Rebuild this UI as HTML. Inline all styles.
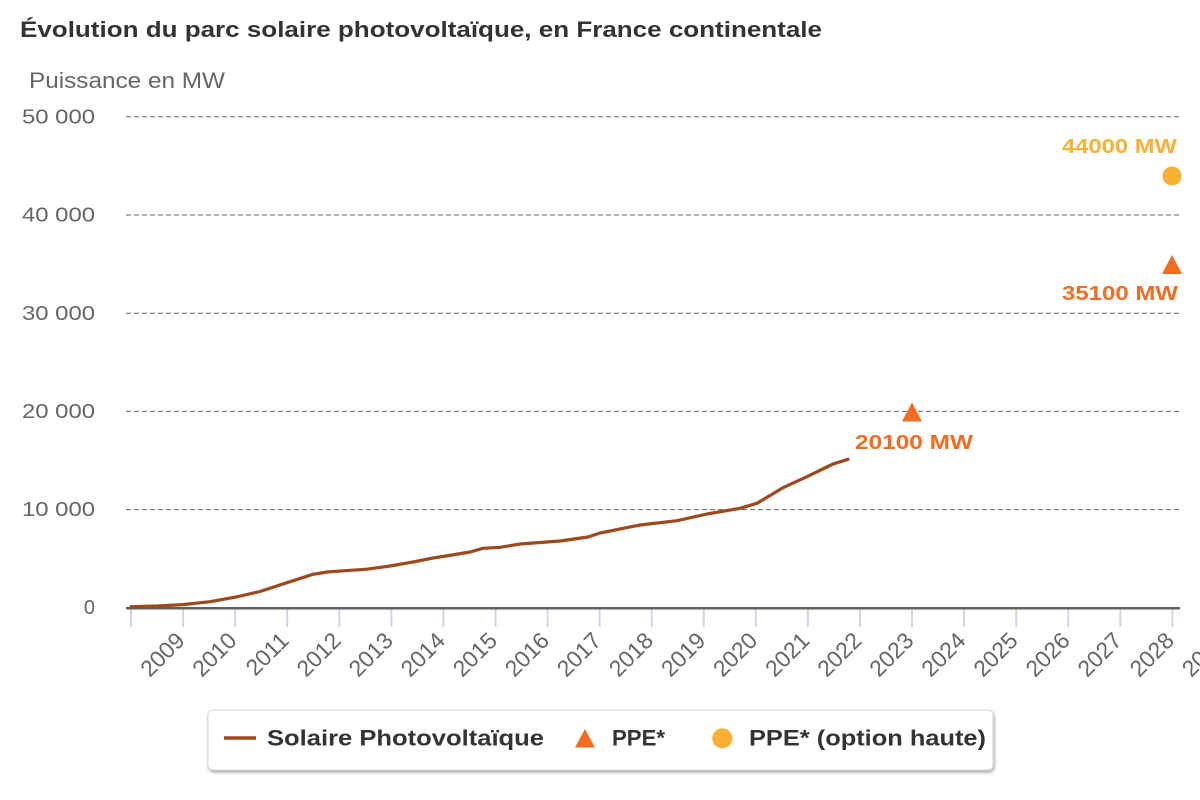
<!DOCTYPE html>
<html>
<head>
<meta charset="utf-8">
<style>
  html, body { margin: 0; padding: 0; background: #ffffff; }
  body { width: 1200px; height: 800px; overflow: hidden; }
  svg { display: block; font-family: "Liberation Sans", "DejaVu Sans", sans-serif; }
</style>
</head>
<body>
<svg width="1200" height="800" viewBox="0 0 1200 800" xmlns="http://www.w3.org/2000/svg">
  <defs>
    <filter id="sh" x="-5%" y="-20%" width="110%" height="150%">
      <feDropShadow dx="1" dy="2" stdDeviation="1.5" flood-color="#000" flood-opacity="0.35"/>
    </filter>
  </defs>
  <rect x="0" y="0" width="1200" height="800" fill="#ffffff"/>

  <!-- Title -->
  <text x="20" y="37" font-size="22" font-weight="bold" fill="#333333" textLength="802" lengthAdjust="spacingAndGlyphs">Évolution du parc solaire photovoltaïque, en France continentale</text>
  <text x="29" y="88" font-size="22" fill="#666666" textLength="196" lengthAdjust="spacingAndGlyphs">Puissance en MW</text>

  <!-- Gridlines -->
  <g stroke="#666666" stroke-width="1" stroke-dasharray="5,3" fill="none">
    <line x1="126" y1="116.7" x2="1180" y2="116.7"/>
    <line x1="126" y1="215" x2="1180" y2="215"/>
    <line x1="126" y1="313.2" x2="1180" y2="313.2"/>
    <line x1="126" y1="411.4" x2="1180" y2="411.4"/>
    <line x1="126" y1="509.6" x2="1180" y2="509.6"/>
  </g>

  <!-- Y labels -->
  <g font-size="20" fill="#666666" text-anchor="end">
    <text x="95" y="123.5" textLength="73" lengthAdjust="spacingAndGlyphs">50 000</text>
    <text x="95" y="221.5" textLength="73" lengthAdjust="spacingAndGlyphs">40 000</text>
    <text x="95" y="320" textLength="73" lengthAdjust="spacingAndGlyphs">30 000</text>
    <text x="95" y="418" textLength="73" lengthAdjust="spacingAndGlyphs">20 000</text>
    <text x="95" y="516" textLength="73" lengthAdjust="spacingAndGlyphs">10 000</text>
    <text x="95" y="614">0</text>
  </g>

  <!-- Ticks -->
  <g stroke="#ccd6eb" stroke-width="2">
    <line x1="131" y1="609" x2="131" y2="627"/>
    <line x1="183.1" y1="609" x2="183.1" y2="627"/>
    <line x1="235.1" y1="609" x2="235.1" y2="627"/>
    <line x1="287.2" y1="609" x2="287.2" y2="627"/>
    <line x1="339.3" y1="609" x2="339.3" y2="627"/>
    <line x1="391.4" y1="609" x2="391.4" y2="627"/>
    <line x1="443.4" y1="609" x2="443.4" y2="627"/>
    <line x1="495.5" y1="609" x2="495.5" y2="627"/>
    <line x1="547.6" y1="609" x2="547.6" y2="627"/>
    <line x1="599.6" y1="609" x2="599.6" y2="627"/>
    <line x1="651.7" y1="609" x2="651.7" y2="627"/>
    <line x1="703.8" y1="609" x2="703.8" y2="627"/>
    <line x1="755.8" y1="609" x2="755.8" y2="627"/>
    <line x1="807.9" y1="609" x2="807.9" y2="627"/>
    <line x1="860" y1="609" x2="860" y2="627"/>
    <line x1="912" y1="609" x2="912" y2="627"/>
    <line x1="964.1" y1="609" x2="964.1" y2="627"/>
    <line x1="1016.2" y1="609" x2="1016.2" y2="627"/>
    <line x1="1068.3" y1="609" x2="1068.3" y2="627"/>
    <line x1="1120.3" y1="609" x2="1120.3" y2="627"/>
    <line x1="1172.4" y1="609" x2="1172.4" y2="627"/>
  </g>
  <!-- Axis line -->
  <line x1="126" y1="608.3" x2="1180" y2="608.3" stroke="#606060" stroke-width="2.5"/>

  <!-- X labels -->
  <g font-size="23" fill="#666666" text-anchor="end">
    <text transform="translate(186,642) rotate(-45)">2009</text>
    <text transform="translate(238.1,642) rotate(-45)">2010</text>
    <text transform="translate(290.2,642) rotate(-45)">2011</text>
    <text transform="translate(342.3,642) rotate(-45)">2012</text>
    <text transform="translate(394.4,642) rotate(-45)">2013</text>
    <text transform="translate(446.4,642) rotate(-45)">2014</text>
    <text transform="translate(498.5,642) rotate(-45)">2015</text>
    <text transform="translate(550.6,642) rotate(-45)">2016</text>
    <text transform="translate(602.6,642) rotate(-45)">2017</text>
    <text transform="translate(654.7,642) rotate(-45)">2018</text>
    <text transform="translate(706.8,642) rotate(-45)">2019</text>
    <text transform="translate(758.8,642) rotate(-45)">2020</text>
    <text transform="translate(810.9,642) rotate(-45)">2021</text>
    <text transform="translate(863,642) rotate(-45)">2022</text>
    <text transform="translate(915,642) rotate(-45)">2023</text>
    <text transform="translate(967.1,642) rotate(-45)">2024</text>
    <text transform="translate(1019.2,642) rotate(-45)">2025</text>
    <text transform="translate(1071.3,642) rotate(-45)">2026</text>
    <text transform="translate(1123.3,642) rotate(-45)">2027</text>
    <text transform="translate(1175.4,642) rotate(-45)">2028</text>
    <text transform="translate(1227.5,642) rotate(-45)">2029</text>
  </g>

  <!-- Series line -->
  <polyline fill="none" stroke="#a0481d" stroke-width="3.2" stroke-linejoin="round" stroke-linecap="round"
    points="131,606.7 157,606 183,604.6 210,601.7 236,597 260,591.5 287,582.7 313,574.3 327,572 345,570.7 367,569.2 390,566 413,562 433,558 452,555 470,552 483,548.3 500,547.3 520,544 560,541 588,537 600,533 640,525 677,520.7 707,514 740,508.3 757,503.3 783,487.7 807,476.7 833,464 848,459.3"/>

  <!-- PPE markers -->
  <polygon points="912,402.5 902,421.5 922,421.5" fill="#f36c21"/>
  <polygon points="1172,255 1162,274 1182,274" fill="#f36c21"/>
  <circle cx="1172" cy="176" r="9.5" fill="#fbb034"/>

  <!-- Data labels -->
  <g font-size="20" font-weight="bold">
    <text x="855" y="449" fill="#f36c21" textLength="118" lengthAdjust="spacingAndGlyphs">20100 MW</text>
    <text x="1062" y="153" fill="#fbb034" textLength="115" lengthAdjust="spacingAndGlyphs">44000 MW</text>
    <text x="1062" y="300" fill="#f36c21" textLength="116" lengthAdjust="spacingAndGlyphs">35100 MW</text>
  </g>

  <!-- Legend -->
  <rect x="208" y="710" width="785" height="60" rx="5" ry="5" fill="#ffffff" stroke="#d8d8d8" stroke-width="1" filter="url(#sh)"/>
  <line x1="224" y1="738" x2="256" y2="738" stroke="#a0481d" stroke-width="3.5"/>
  <g font-size="22" font-weight="bold" fill="#333333">
    <text x="267" y="745.5" textLength="277" lengthAdjust="spacingAndGlyphs">Solaire Photovoltaïque</text>
    <text x="612" y="745.5" textLength="53" lengthAdjust="spacingAndGlyphs">PPE*</text>
    <text x="749" y="745.5" textLength="237" lengthAdjust="spacingAndGlyphs">PPE* (option haute)</text>
  </g>
  <polygon points="585,729 575,747.5 595,747.5" fill="#f36c21"/>
  <circle cx="722.3" cy="738.3" r="10" fill="#fbb034"/>
</svg>
</body>
</html>
